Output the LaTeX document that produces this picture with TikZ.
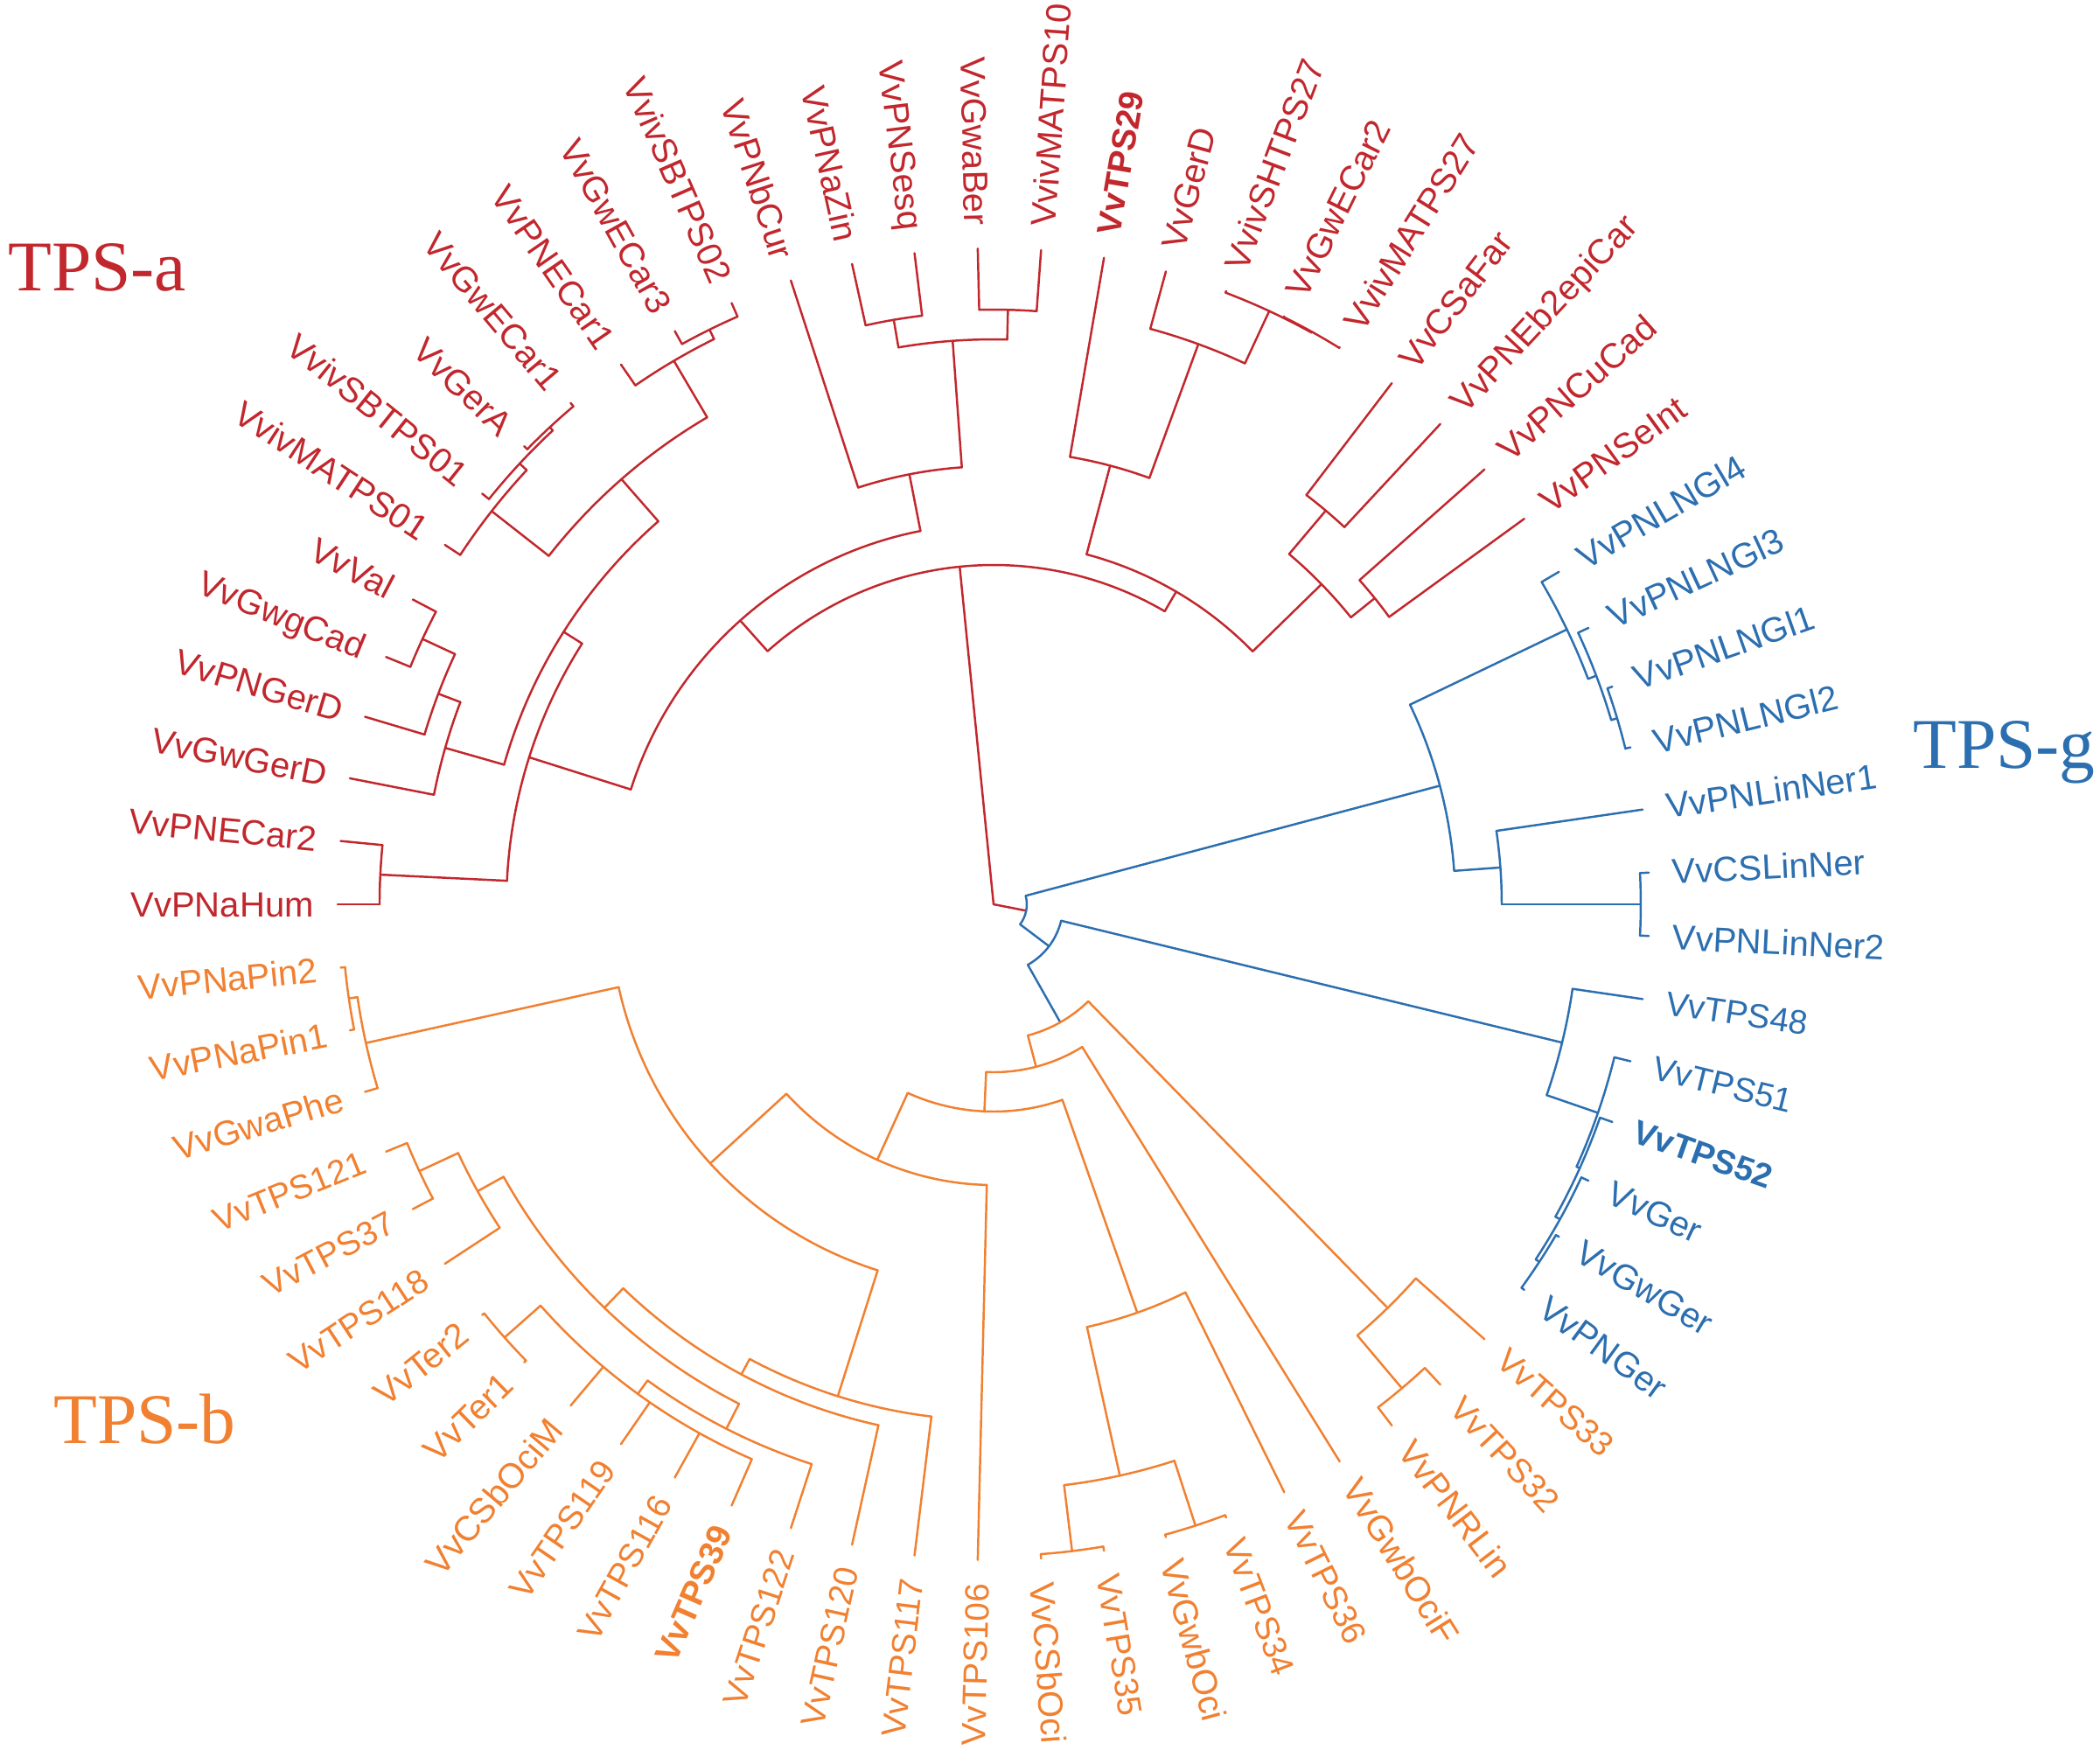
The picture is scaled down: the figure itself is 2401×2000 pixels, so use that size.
\documentclass[tikz,border=0pt]{standalone}
\usepackage{fontspec}
\setmainfont{Liberation Sans}
\newfontfamily\cladefont{Liberation Serif}
\definecolor{tred}{RGB}{193,39,45}
\definecolor{torange}{RGB}{241,128,48}
\definecolor{tblue}{RGB}{44,111,176}
\newcommand\ARC[3]{\draw (#2:#1) arc[start angle=#2, end angle=#3, radius=#1];}
\newcommand\BR[3]{\draw (#1:#2) -- (#1:#3);}
\newcommand\LR[4]{\node[lab,#4,rotate=#2,anchor=west] (#1) at (#2:776) {#3};}
\newcommand\LL[4]{\node[lab,#4,rotate=#2+180,anchor=east] (#1) at (#2:776) {#3};}
\begin{document}
\begin{tikzpicture}[x=0.1mm,y=0.1mm,line width=0.7pt,line cap=round,
  lab/.style={inner sep=0pt,font=\fontsize{11.4pt}{13pt}\selectfont,text height=2.88mm,text depth=0pt},
  tps/.style={font=\fontsize{11pt}{13pt}\selectfont,text height=2.78mm},
  rd/.style={text=tred}, bl/.style={text=tblue}, og/.style={text=torange},
  clade/.style={inner sep=0pt,anchor=base west,font=\cladefont\fontsize{23.2pt}{26pt}\selectfont}]
\useasboundingbox[fill=white] (-1136,-966) rectangle (1265,1034);
% ---------------- red clade (TPS-a)
\begin{scope}[tred]
\BR{95.7332}{0}{388} \BR{-11.106}{0}{38}
\ARC{388}{131.7548}{59.7115} \BR{131.7548}{388}{435} \BR{59.7115}{388}{414}
\ARC{435}{162.4327}{101.0769} \BR{162.4327}{435}{557} \BR{101.0769}{435}{501}
\ARC{557}{177.2308}{147.6346} \BR{177.2308}{557}{702} \BR{147.6346}{557}{582}
\ARC{702}{180}{174.4615} \BR{180}{702}{750} \BR{174.4615}{702}{750}
\ARC{582}{164.0769}{131.1923} \BR{164.0769}{582}{652} \BR{131.1923}{582}{646}
\ARC{652}{168.9231}{159.2308} \BR{168.9231}{652}{750} \BR{159.2308}{652}{679}
\ARC{679}{163.3846}{155.0769} \BR{163.3846}{679}{750} \BR{155.0769}{679}{720}
\ARC{720}{157.8462}{152.3077} \BR{157.8462}{720}{750} \BR{152.3077}{720}{750}
\ARC{646}{141.9231}{120.4615} \BR{141.9231}{646}{729} \BR{120.4615}{646}{721}
\ARC{729}{146.7692}{137.0769} \BR{146.7692}{729}{750} \BR{137.0769}{729}{740}
\ARC{740}{141.2308}{132.9231} \BR{141.2308}{740}{750} \BR{132.9231}{740}{745}
\ARC{745}{135.6923}{130.1538} \BR{135.6923}{745}{750} \BR{130.1538}{745}{750}
\ARC{721}{124.6154}{116.3077} \BR{124.6154}{721}{750} \BR{116.3077}{721}{733}
\ARC{733}{119.0769}{113.5385} \BR{119.0769}{733}{750} \BR{113.5385}{733}{750}
\ARC{501}{108}{94.1538} \BR{108}{501}{750} \BR{94.1538}{501}{646}
\ARC{646}{99.6923}{88.6154} \BR{99.6923}{646}{678} \BR{88.6154}{646}{680}
\ARC{678}{102.4615}{96.9231} \BR{102.4615}{678}{750} \BR{96.9231}{678}{750}
\ARC{680}{91.3846}{85.8462} \BR{91.3846}{680}{750} \BR{85.8462}{680}{750}
\ARC{414}{75.1154}{44.3077} \BR{75.1154}{414}{519} \BR{44.3077}{414}{524}
\ARC{519}{80.3077}{69.9231} \BR{80.3077}{519}{750} \BR{69.9231}{519}{682}
\ARC{682}{74.7692}{65.0769} \BR{74.7692}{682}{750} \BR{65.0769}{682}{748}
\ARC{748}{69.2308}{60.9231} \BR{69.2308}{748}{750} \BR{60.9231}{748}{749}
\ARC{749}{63.6923}{58.1538} \BR{63.6923}{749}{750} \BR{58.1538}{749}{750}
\ARC{524}{49.8462}{38.7692} \BR{49.8462}{524}{589} \BR{38.7692}{524}{559}
\ARC{589}{52.6154}{47.0769} \BR{52.6154}{589}{750} \BR{47.0769}{589}{750}
\ARC{559}{41.5385}{36} \BR{41.5385}{559}{750} \BR{36}{559}{750}
\end{scope}
% ---------------- blue clade (TPS-g)
\begin{scope}[tblue]
\ARC{38}{14.8846}{-37.0966} \BR{14.8846}{38}{528} \BR{-37.0966}{38}{79.5}
\ARC{79.5}{-13.6731}{-60.5201} \BR{-13.6731}{79.5}{669} \BR{-60.5201}{79.5}{155}
\ARC{528}{25.6154}{4.1538} \BR{25.6154}{528}{727} \BR{4.1538}{528}{581}
\ARC{727}{30.4615}{20.7692} \BR{30.4615}{727}{750} \BR{20.7692}{727}{737}
\ARC{737}{24.9231}{16.6154} \BR{24.9231}{737}{750} \BR{16.6154}{737}{744}
\ARC{744}{19.3846}{13.8462} \BR{19.3846}{744}{750} \BR{13.8462}{744}{750}
\ARC{581}{8.3077}{0} \BR{8.3077}{581}{750} \BR{0}{581}{740}
\ARC{740}{2.7692}{-2.7692} \BR{2.7692}{740}{750} \BR{-2.7692}{740}{750}
\ARC{669}{-8.3077}{-19.0385} \BR{-8.3077}{669}{750} \BR{-19.0385}{669}{731}
\ARC{731}{-13.8462}{-24.2308} \BR{-13.8462}{731}{750} \BR{-24.2308}{731}{735}
\ARC{735}{-19.3846}{-29.0769} \BR{-19.3846}{735}{750} \BR{-29.0769}{735}{741}
\ARC{741}{-24.9231}{-33.2308} \BR{-24.9231}{741}{750} \BR{-33.2308}{741}{746}
\ARC{746}{-30.4615}{-36} \BR{-30.4615}{746}{750} \BR{-36}{746}{750}
\end{scope}
% ---------------- orange clade (TPS-b)
\begin{scope}[torange]
\ARC{155}{-75.3480}{-45.6923} \BR{-75.3480}{155}{192} \BR{-45.6923}{155}{645}
\ARC{645}{-41.5385}{-49.8462} \BR{-41.5385}{645}{750} \BR{-49.8462}{645}{724}
\ARC{724}{-47.0769}{-52.6154} \BR{-47.0769}{724}{750} \BR{-52.6154}{724}{750}
\ARC{192}{-92.5421}{-58.1538} \BR{-92.5421}{192}{237} \BR{-58.1538}{192}{750}
\ARC{237}{-114.4688}{-70.6154} \BR{-114.4688}{237}{321} \BR{-70.6154}{237}{495}
\ARC{495}{-77.5385}{-63.6923} \BR{-77.5385}{495}{669} \BR{-63.6923}{495}{750}
\ARC{669}{-83.0769}{-72} \BR{-83.0769}{669}{745} \BR{-72}{669}{747}
\ARC{745}{-80.3077}{-85.8462} \BR{-80.3077}{745}{750} \BR{-85.8462}{745}{750}
\ARC{747}{-69.2308}{-74.7692} \BR{-69.2308}{747}{750} \BR{-74.7692}{747}{750}
\ARC{321}{-137.5529}{-91.3846} \BR{-137.5529}{321}{439} \BR{-91.3846}{321}{750}
\ARC{439}{-167.5385}{-107.5673} \BR{-167.5385}{439}{735} \BR{-107.5673}{439}{590}
\ARC{735}{-163.3846}{-171.6923} \BR{-163.3846}{735}{750} \BR{-171.6923}{735}{745}
\ARC{745}{-168.9231}{-174.4615} \BR{-168.9231}{745}{750} \BR{-174.4615}{745}{750}
\ARC{590}{-118.2115}{-96.9231} \BR{-118.2115}{590}{610} \BR{-96.9231}{590}{750}
\ARC{610}{-133.9615}{-102.4615} \BR{-133.9615}{610}{641} \BR{-102.4615}{610}{750}
\ARC{641}{-150.9231}{-117} \BR{-150.9231}{641}{675} \BR{-117}{641}{673}
\ARC{675}{-155.0769}{-146.7692} \BR{-155.0769}{675}{724} \BR{-146.7692}{675}{750}
\ARC{724}{-157.8462}{-152.3077} \BR{-157.8462}{724}{750} \BR{-152.3077}{724}{750}
\ARC{673}{-126}{-108} \BR{-126}{673}{692} \BR{-108}{673}{750}
\ARC{692}{-138.4615}{-113.5385} \BR{-138.4615}{692}{747} \BR{-130.1538}{692}{750}
\BR{-124.6154}{692}{750} \BR{-119.0769}{692}{750} \BR{-113.5385}{692}{750}
\ARC{747}{-135.6923}{-141.2308} \BR{-135.6923}{747}{750} \BR{-141.2308}{747}{750}
\end{scope}
% ---------------- leaf labels
\LL{l1}{180}{VvPNaHum}{rd}
\LL{l2}{174.4615}{VvPNECar2}{rd}
\LL{l3}{168.9231}{VvGwGerD}{rd}
\LL{l4}{163.3846}{VvPNGerD}{rd}
\LL{l5}{157.8462}{VvGwgCad}{rd}
\LL{l6}{152.3077}{VvVal}{rd}
\LL{l7}{146.7692}{VvivMATPS01}{rd}
\LL{l8}{141.2308}{VvivSBTPS01}{rd}
\LL{l9}{135.6923}{VvGerA}{rd}
\LL{l10}{130.1538}{VvGwECar1}{rd}
\LL{l11}{124.6154}{VvPNECar1}{rd}
\LL{l12}{119.0769}{VvGwECar3}{rd}
\LL{l13}{113.5385}{VvivSBTPS02}{rd}
\LL{l14}{108}{VvPNbCur}{rd}
\LL{l15}{102.4615}{VvPNaZin}{rd}
\LL{l16}{96.9231}{VvPNSesq}{rd}
\LL{l17}{91.3846}{VvGwaBer}{rd}
\LR{l18}{85.8462}{VvivMATPS10}{rd}
\LR{l19}{80.3077}{\bfseries VvTPS29}{rd,tps}
\LR{l20}{74.7692}{VvGerD}{rd}
\LR{l21}{69.2308}{VvivSHTPS27}{rd}
\LR{l22}{63.6923}{VvGwECar2}{rd}
\LR{l23}{58.1538}{VvivMATPS27}{rd}
\LR{l24}{52.6154}{VvCSaFar}{rd}
\LR{l25}{47.0769}{VvPNEb2epiCar}{rd}
\LR{l26}{41.5385}{VvPNCuCad}{rd}
\LR{l27}{36}{VvPNSeInt}{rd}
\LR{l28}{30.4615}{VvPNLNGl4}{bl}
\LR{l29}{24.9231}{VvPNLNGl3}{bl}
\LR{l30}{19.3846}{VvPNLNGl1}{bl}
\LR{l31}{13.8462}{VvPNLNGl2}{bl}
\LR{l32}{8.3077}{VvPNLinNer1}{bl}
\LR{l33}{2.7692}{VvCSLinNer}{bl}
\LR{l34}{-2.7692}{VvPNLinNer2}{bl}
\LR{l35}{-8.3077}{VvTPS48}{bl,tps}
\LR{l36}{-13.8462}{VvTPS51}{bl,tps}
\LR{l37}{-19.3846}{\bfseries VvTPS52}{bl,tps}
\LR{l38}{-24.9231}{VvGer}{bl}
\LR{l39}{-30.4615}{VvGwGer}{bl}
\LR{l40}{-36}{VvPNGer}{bl}
\LR{l41}{-41.5385}{VvTPS33}{og,tps}
\LR{l42}{-47.0769}{VvTPS32}{og,tps}
\LR{l43}{-52.6154}{VvPNRLin}{og}
\LR{l44}{-58.1538}{VvGwbOciF}{og}
\LR{l45}{-63.6923}{VvTPS36}{og,tps}
\LR{l46}{-69.2308}{VvTPS34}{og,tps}
\LR{l47}{-74.7692}{VvGwbOci}{og}
\LR{l48}{-80.3077}{VvTPS35}{og,tps}
\LR{l49}{-85.8462}{VvCSbOci}{og}
\LL{l50}{-91.3846}{VvTPS106}{og,tps}
\LL{l51}{-96.9231}{VvTPS117}{og,tps}
\LL{l52}{-102.4615}{VvTPS120}{og,tps}
\LL{l53}{-108}{VvTPS122}{og,tps}
\LL{l54}{-113.5385}{\bfseries VvTPS39}{og,tps}
\LL{l55}{-119.0769}{VvTPS116}{og,tps}
\LL{l56}{-124.6154}{VvTPS119}{og,tps}
\LL{l57}{-130.1538}{VvCSbOciM}{og}
\LL{l58}{-135.6923}{VvTer1}{og}
\LL{l59}{-141.2308}{VvTer2}{og}
\LL{l60}{-146.7692}{VvTPS118}{og,tps}
\LL{l61}{-152.3077}{VvTPS37}{og,tps}
\LL{l62}{-157.8462}{VvTPS121}{og,tps}
\LL{l63}{-163.3846}{VvGwaPhe}{og}
\LL{l64}{-168.9231}{VvPNaPin1}{og}
\LL{l65}{-174.4615}{VvPNaPin2}{og}
% ---------------- clade names
\node[clade,text=tred] (ca) at (-1128,702) {TPS-a};
\node[clade,text=tblue] (cg) at (1050,156) {TPS-g};
\node[clade,text=torange] (cb) at (-1076,-616) {TPS-b};
\end{tikzpicture}
\end{document}
